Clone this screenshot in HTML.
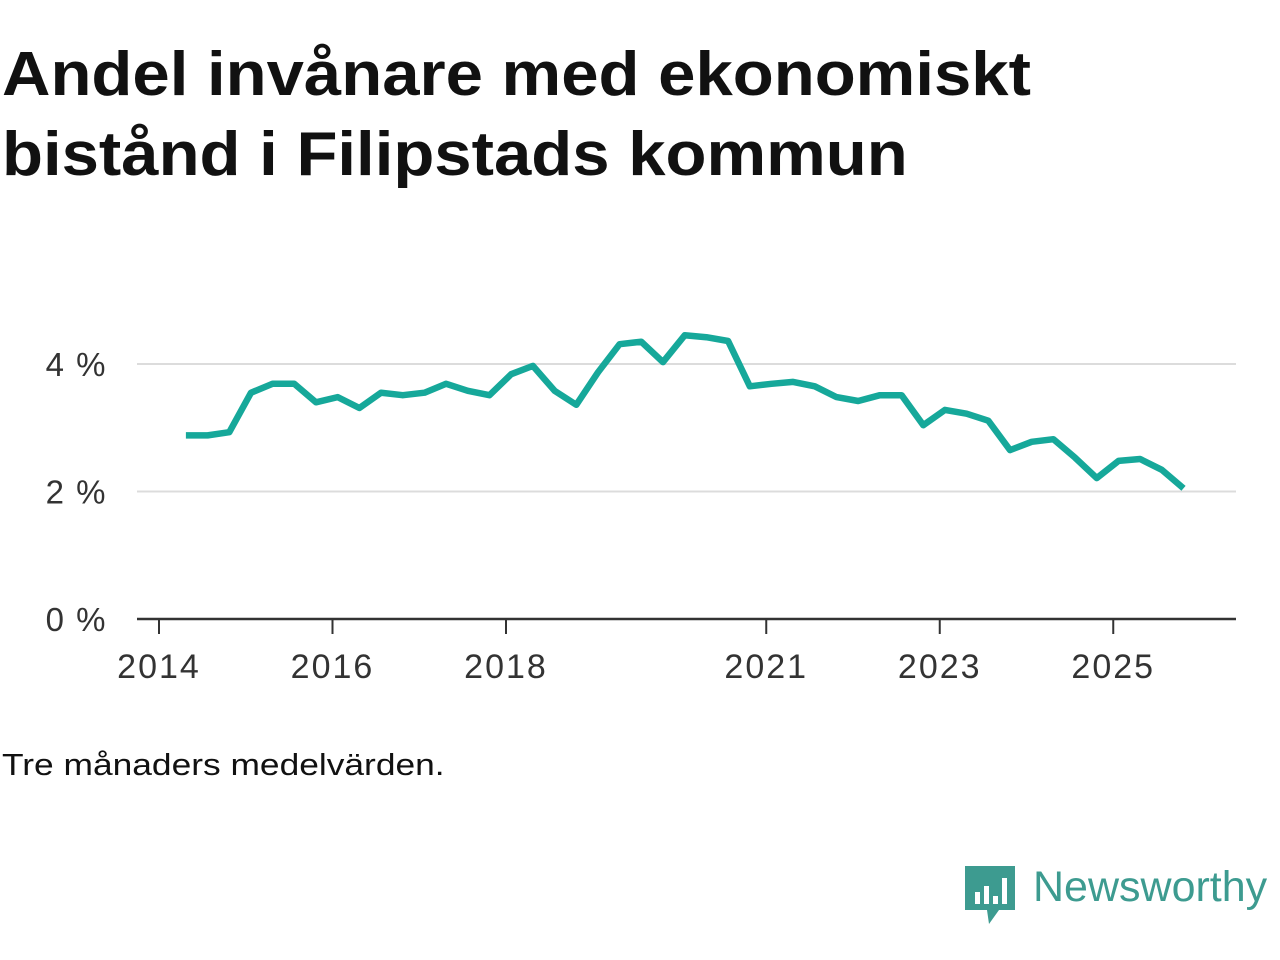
<!DOCTYPE html>
<html><head><meta charset="utf-8">
<style>
body{margin:0;width:1280px;height:960px;background:#fff;font-family:"Liberation Sans",sans-serif;overflow:hidden;position:relative}
h1{position:absolute;left:2px;top:35px;margin:0;font-size:62px;line-height:80px;font-weight:bold;color:#111;transform:scaleX(1.082);transform-origin:0 0;white-space:nowrap}
.note{position:absolute;left:2px;top:747px;font-size:31px;color:#111;transform:scaleX(1.14);transform-origin:0 0;white-space:nowrap}
.logo{position:absolute;left:1033px;top:863px;font-size:43px;color:#3d9b90}
</style></head><body>
<h1>Andel invånare med ekonomiskt<br>bistånd i Filipstads kommun</h1>
<svg id="chart" width="1280" height="960" style="position:absolute;left:0;top:0"></svg>
<div class="note">Tre månaders medelvärden.</div>
<svg style="position:absolute;left:965px;top:866px" width="50" height="60" viewBox="0 0 50 60">
<path d="M0 0H50V44H34L24 58L22 44H0Z" fill="#3d9b90"/>
<rect x="10" y="26" width="5" height="12" fill="#fff"/><rect x="19" y="20" width="5" height="18" fill="#fff"/><rect x="28" y="30" width="5" height="8" fill="#fff"/><rect x="37" y="12" width="5" height="26" fill="#fff"/>
</svg>
<div class="logo">Newsworthy</div>
<script>
const yTicks=[0,2,4];
const xTickYears=[2014,2016,2018,2021,2023,2025];
const startYear=2014.31;
const values=[2.88,2.88,2.93,3.55,3.69,3.69,3.40,3.48,3.31,3.55,3.51,3.55,3.69,3.58,3.51,3.84,3.97,3.58,3.36,3.87,4.31,4.35,4.03,4.45,4.42,4.36,3.65,3.69,3.72,3.65,3.48,3.42,3.51,3.51,3.04,3.28,3.22,3.11,2.65,2.78,2.82,2.53,2.21,2.48,2.51,2.34,2.05];
const svg=document.getElementById('chart');const NS='http://www.w3.org/2000/svg';
const x=yr=>159+(yr-2014)*86.75;
const y=v=>619-v*63.75;
function mk(t,a){const e=document.createElementNS(NS,t);for(const k in a)e.setAttribute(k,a[k]);svg.appendChild(e);return e;}
yTicks.forEach(v=>{
  if(v>0){const g=mk('line',{x1:137,x2:1236,y1:y(v),y2:y(v),stroke:'#dcdcdc','stroke-width':2});
  
  }
  const t=mk('text',{x:107,y:y(v)+12,'text-anchor':'end','font-size':33,'letter-spacing':1.5,fill:'#333','font-family':'Liberation Sans, sans-serif'});
  t.textContent=v+' %';
  
  
});
const ax=mk('line',{x1:137,x2:1236,y1:619,y2:619,stroke:'#333','stroke-width':2.5});


xTickYears.forEach(yr=>{
  const tk=mk('line',{x1:x(yr),x2:x(yr),y1:619,y2:634,stroke:'#333','stroke-width':2});
  
  
  const t=mk('text',{x:x(yr),y:678,'text-anchor':'middle','font-size':34,'letter-spacing':2,fill:'#333','font-family':'Liberation Sans, sans-serif'});
  t.textContent=yr;
  
  
});
const pts=values.map((v,i)=>x(startYear+i*0.25).toFixed(1)+','+y(v).toFixed(1)).join(' ');
const pl=mk('polyline',{points:pts,fill:'none',stroke:'#16a89a','stroke-width':6.5,'stroke-linejoin':'round'});


</script>
</body></html>
